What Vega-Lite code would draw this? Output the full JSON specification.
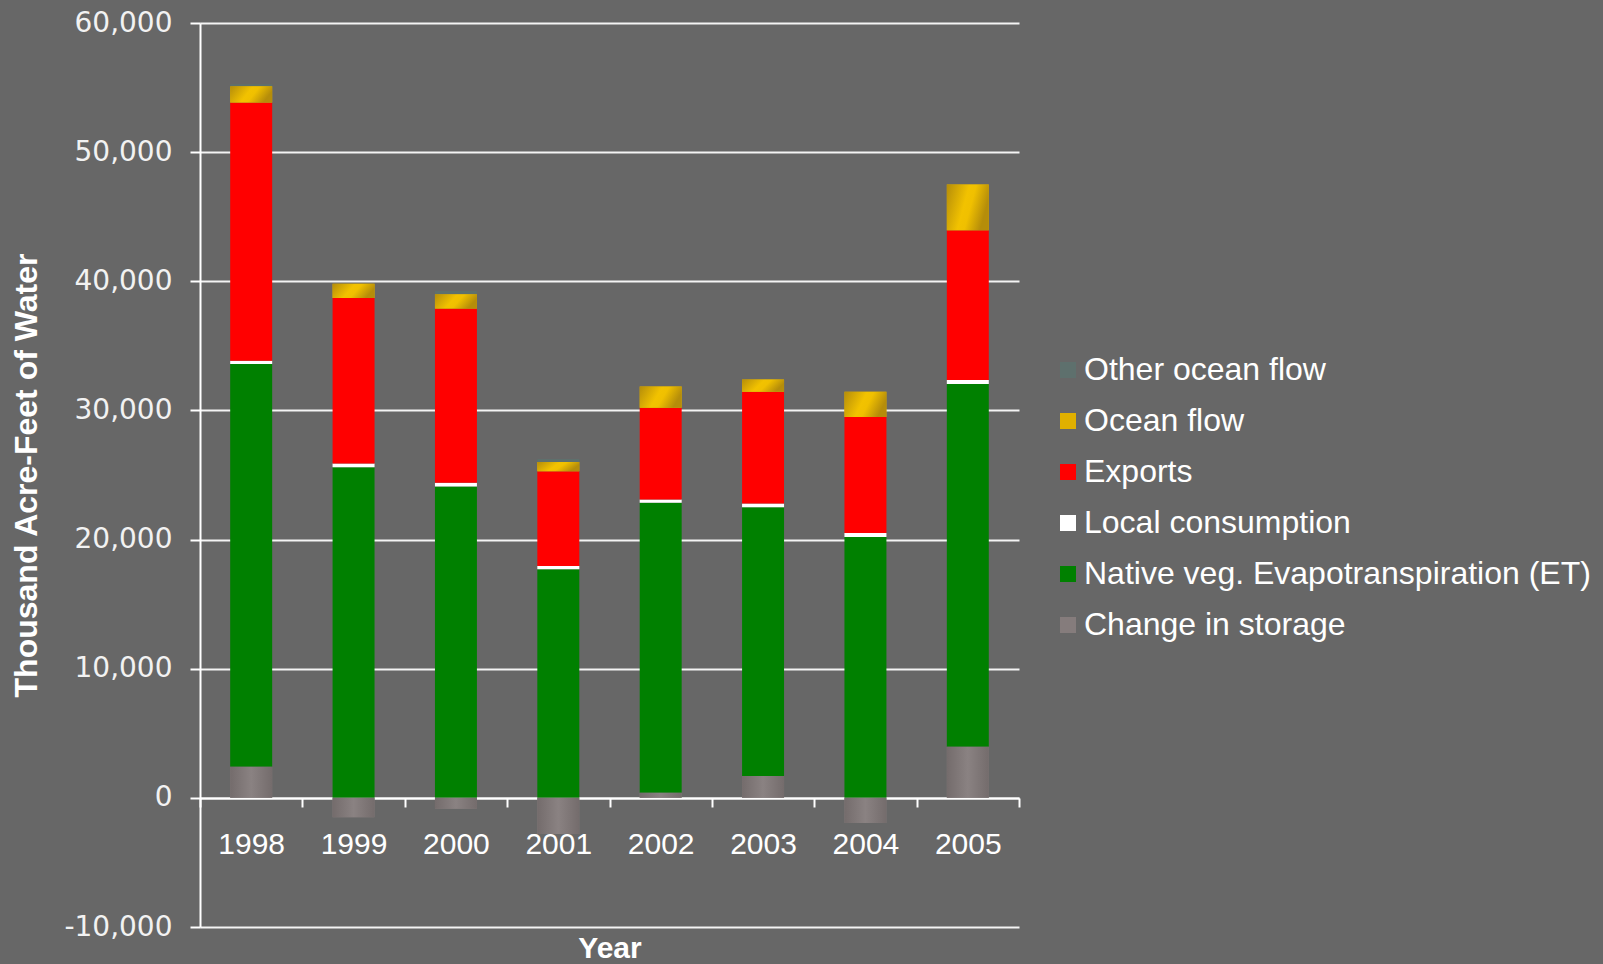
{
  "$schema": "https://vega.github.io/schema/vega-lite/v6.json",
  "autosize": "none",
  "padding": {"left": 200, "top": 23, "right": 584, "bottom": 37},
  "width": 819,
  "height": 904,
  "background": "#676767",
  "config": {
    "view": {"stroke": null},
    "font": "Liberation Sans"
  },
  "data": {
    "values": [
      {"year": "1998", "series": "Change in storage", "order": 1, "value": 2400},
      {"year": "1998", "series": "Native veg. Evapotranspiration (ET)", "order": 2, "value": 31200},
      {"year": "1998", "series": "Local consumption", "order": 3, "value": 250},
      {"year": "1998", "series": "Exports", "order": 4, "value": 20000},
      {"year": "1998", "series": "Ocean flow", "order": 5, "value": 1250},
      {"year": "1998", "series": "Other ocean flow", "order": 6, "value": 150},
      {"year": "1999", "series": "Change in storage", "order": 1, "value": -1500},
      {"year": "1999", "series": "Native veg. Evapotranspiration (ET)", "order": 2, "value": 25600},
      {"year": "1999", "series": "Local consumption", "order": 3, "value": 300},
      {"year": "1999", "series": "Exports", "order": 4, "value": 12800},
      {"year": "1999", "series": "Ocean flow", "order": 5, "value": 1100},
      {"year": "1999", "series": "Other ocean flow", "order": 6, "value": 0},
      {"year": "2000", "series": "Change in storage", "order": 1, "value": -850},
      {"year": "2000", "series": "Native veg. Evapotranspiration (ET)", "order": 2, "value": 24100},
      {"year": "2000", "series": "Local consumption", "order": 3, "value": 300},
      {"year": "2000", "series": "Exports", "order": 4, "value": 13500},
      {"year": "2000", "series": "Ocean flow", "order": 5, "value": 1100},
      {"year": "2000", "series": "Other ocean flow", "order": 6, "value": 250},
      {"year": "2001", "series": "Change in storage", "order": 1, "value": -2800},
      {"year": "2001", "series": "Native veg. Evapotranspiration (ET)", "order": 2, "value": 17700},
      {"year": "2001", "series": "Local consumption", "order": 3, "value": 250},
      {"year": "2001", "series": "Exports", "order": 4, "value": 7350},
      {"year": "2001", "series": "Ocean flow", "order": 5, "value": 700},
      {"year": "2001", "series": "Other ocean flow", "order": 6, "value": 230},
      {"year": "2002", "series": "Change in storage", "order": 1, "value": 400},
      {"year": "2002", "series": "Native veg. Evapotranspiration (ET)", "order": 2, "value": 22450},
      {"year": "2002", "series": "Local consumption", "order": 3, "value": 250},
      {"year": "2002", "series": "Exports", "order": 4, "value": 7100},
      {"year": "2002", "series": "Ocean flow", "order": 5, "value": 1650},
      {"year": "2002", "series": "Other ocean flow", "order": 6, "value": 0},
      {"year": "2003", "series": "Change in storage", "order": 1, "value": 1700},
      {"year": "2003", "series": "Native veg. Evapotranspiration (ET)", "order": 2, "value": 20800},
      {"year": "2003", "series": "Local consumption", "order": 3, "value": 300},
      {"year": "2003", "series": "Exports", "order": 4, "value": 8650},
      {"year": "2003", "series": "Ocean flow", "order": 5, "value": 950},
      {"year": "2003", "series": "Other ocean flow", "order": 6, "value": 0},
      {"year": "2004", "series": "Change in storage", "order": 1, "value": -1950},
      {"year": "2004", "series": "Native veg. Evapotranspiration (ET)", "order": 2, "value": 20200},
      {"year": "2004", "series": "Local consumption", "order": 3, "value": 300},
      {"year": "2004", "series": "Exports", "order": 4, "value": 9000},
      {"year": "2004", "series": "Ocean flow", "order": 5, "value": 1950},
      {"year": "2004", "series": "Other ocean flow", "order": 6, "value": 0},
      {"year": "2005", "series": "Change in storage", "order": 1, "value": 3950},
      {"year": "2005", "series": "Native veg. Evapotranspiration (ET)", "order": 2, "value": 28100},
      {"year": "2005", "series": "Local consumption", "order": 3, "value": 300},
      {"year": "2005", "series": "Exports", "order": 4, "value": 11600},
      {"year": "2005", "series": "Ocean flow", "order": 5, "value": 3550},
      {"year": "2005", "series": "Other ocean flow", "order": 6, "value": 0}
    ]
  },
  "transform": [
    {"stack": "value", "groupby": ["year"], "sort": [{"field": "order", "order": "ascending"}], "as": ["v0", "v1"], "offset": "zero"}
  ],
  "encoding": {
    "x": {
      "field": "year",
      "type": "ordinal",
      "scale": {"paddingInner": 0, "paddingOuter": 0},
      "axis": {
        "title": "Year",
        "labelAngle": 0,
        "labelFont": "Liberation Sans",
        "labelFontSize": 30,
        "labelColor": "#ffffff",
        "labelPadding": 22,
        "titleFont": "Liberation Sans",
        "titleFontSize": 30,
        "titleFontWeight": "bold",
        "titleColor": "#ffffff",
        "titlePadding": 74,
        "offset": -129,
        "domainColor": "#ffffff",
        "domainWidth": 2,
        "tickColor": "#ffffff",
        "tickWidth": 2,
        "tickSize": 9,
        "tickBand": "extent",
        "grid": false
      }
    },
    "y": {
      "field": "v0",
      "type": "quantitative",
      "scale": {"domain": [-10000, 60000], "nice": false},
      "axis": {
        "title": "Thousand Acre-Feet of Water",
        "values": [-10000, 0, 10000, 20000, 30000, 40000, 50000, 60000],
        "labelExpr": "replace(format(datum.value, ','), '\u2212', '-')",
        "labelFont": "DejaVu Sans",
        "labelFontSize": 28,
        "labelColor": "#f2f2f2",
        "labelPadding": 18,
        "tickSize": 10,
        "tickColor": "#ffffff",
        "tickWidth": 2,
        "domainColor": "#ffffff",
        "domainWidth": 2,
        "grid": true,
        "gridColor": "#f4f4f4",
        "gridWidth": 2,
        "gridOpacity": 1,
        "titleFont": "Liberation Sans",
        "titleFontSize": 32,
        "titleFontWeight": "bold",
        "titleColor": "#ffffff",
        "titlePadding": 20
      }
    },
    "y2": {"field": "v1"}
  },
  "layer": [
    {
      "mark": {"type": "bar", "opacity": 1, "width": {"band": 0.41}},
      "encoding": {
        "color": {
          "field": "series",
          "type": "nominal",
          "scale": {
            "domain": ["Other ocean flow", "Ocean flow", "Exports", "Local consumption", "Native veg. Evapotranspiration (ET)", "Change in storage"],
            "range": ["#5e706d", "#e0b000", "#ff0000", "#ffffff", "#008000", "#857c7c"]
          },
          "legend": {
            "title": null,
            "orient": "none",
            "legendX": 852,
            "legendY": 331,
            "symbolType": "square",
            "symbolSize": 256,
            "symbolStrokeWidth": 0,
            "symbolOpacity": 1,
            "labelFont": "Liberation Sans",
            "labelFontSize": 32,
            "labelColor": "#ffffff",
            "labelOffset": 0,
            "labelLimit": 700,
            "rowPadding": 19
          }
        }
      }
    },
    {
      "transform": [{"filter": "datum.series === 'Ocean flow'"}],
      "mark": {
        "type": "bar",
        "width": {"band": 0.41},
        "fill": {
          "gradient": "linear", "x1": 0, "y1": 0, "x2": 1, "y2": 0.3,
          "stops": [
            {"offset": 0, "color": "#b58d0a"},
            {"offset": 0.5, "color": "#f2c200"},
            {"offset": 0.65, "color": "#f0c000"},
            {"offset": 1, "color": "#b58d0a"}
          ]
        }
      }
    },
    {
      "transform": [{"filter": "datum.series === 'Change in storage'"}],
      "mark": {
        "type": "bar",
        "width": {"band": 0.41},
        "fill": {
          "gradient": "linear", "x1": 0, "y1": 0, "x2": 1, "y2": 0,
          "stops": [
            {"offset": 0, "color": "#746c6c"},
            {"offset": 0.5, "color": "#8a8282"},
            {"offset": 1, "color": "#746c6c"}
          ]
        }
      }
    }
  ]
}
